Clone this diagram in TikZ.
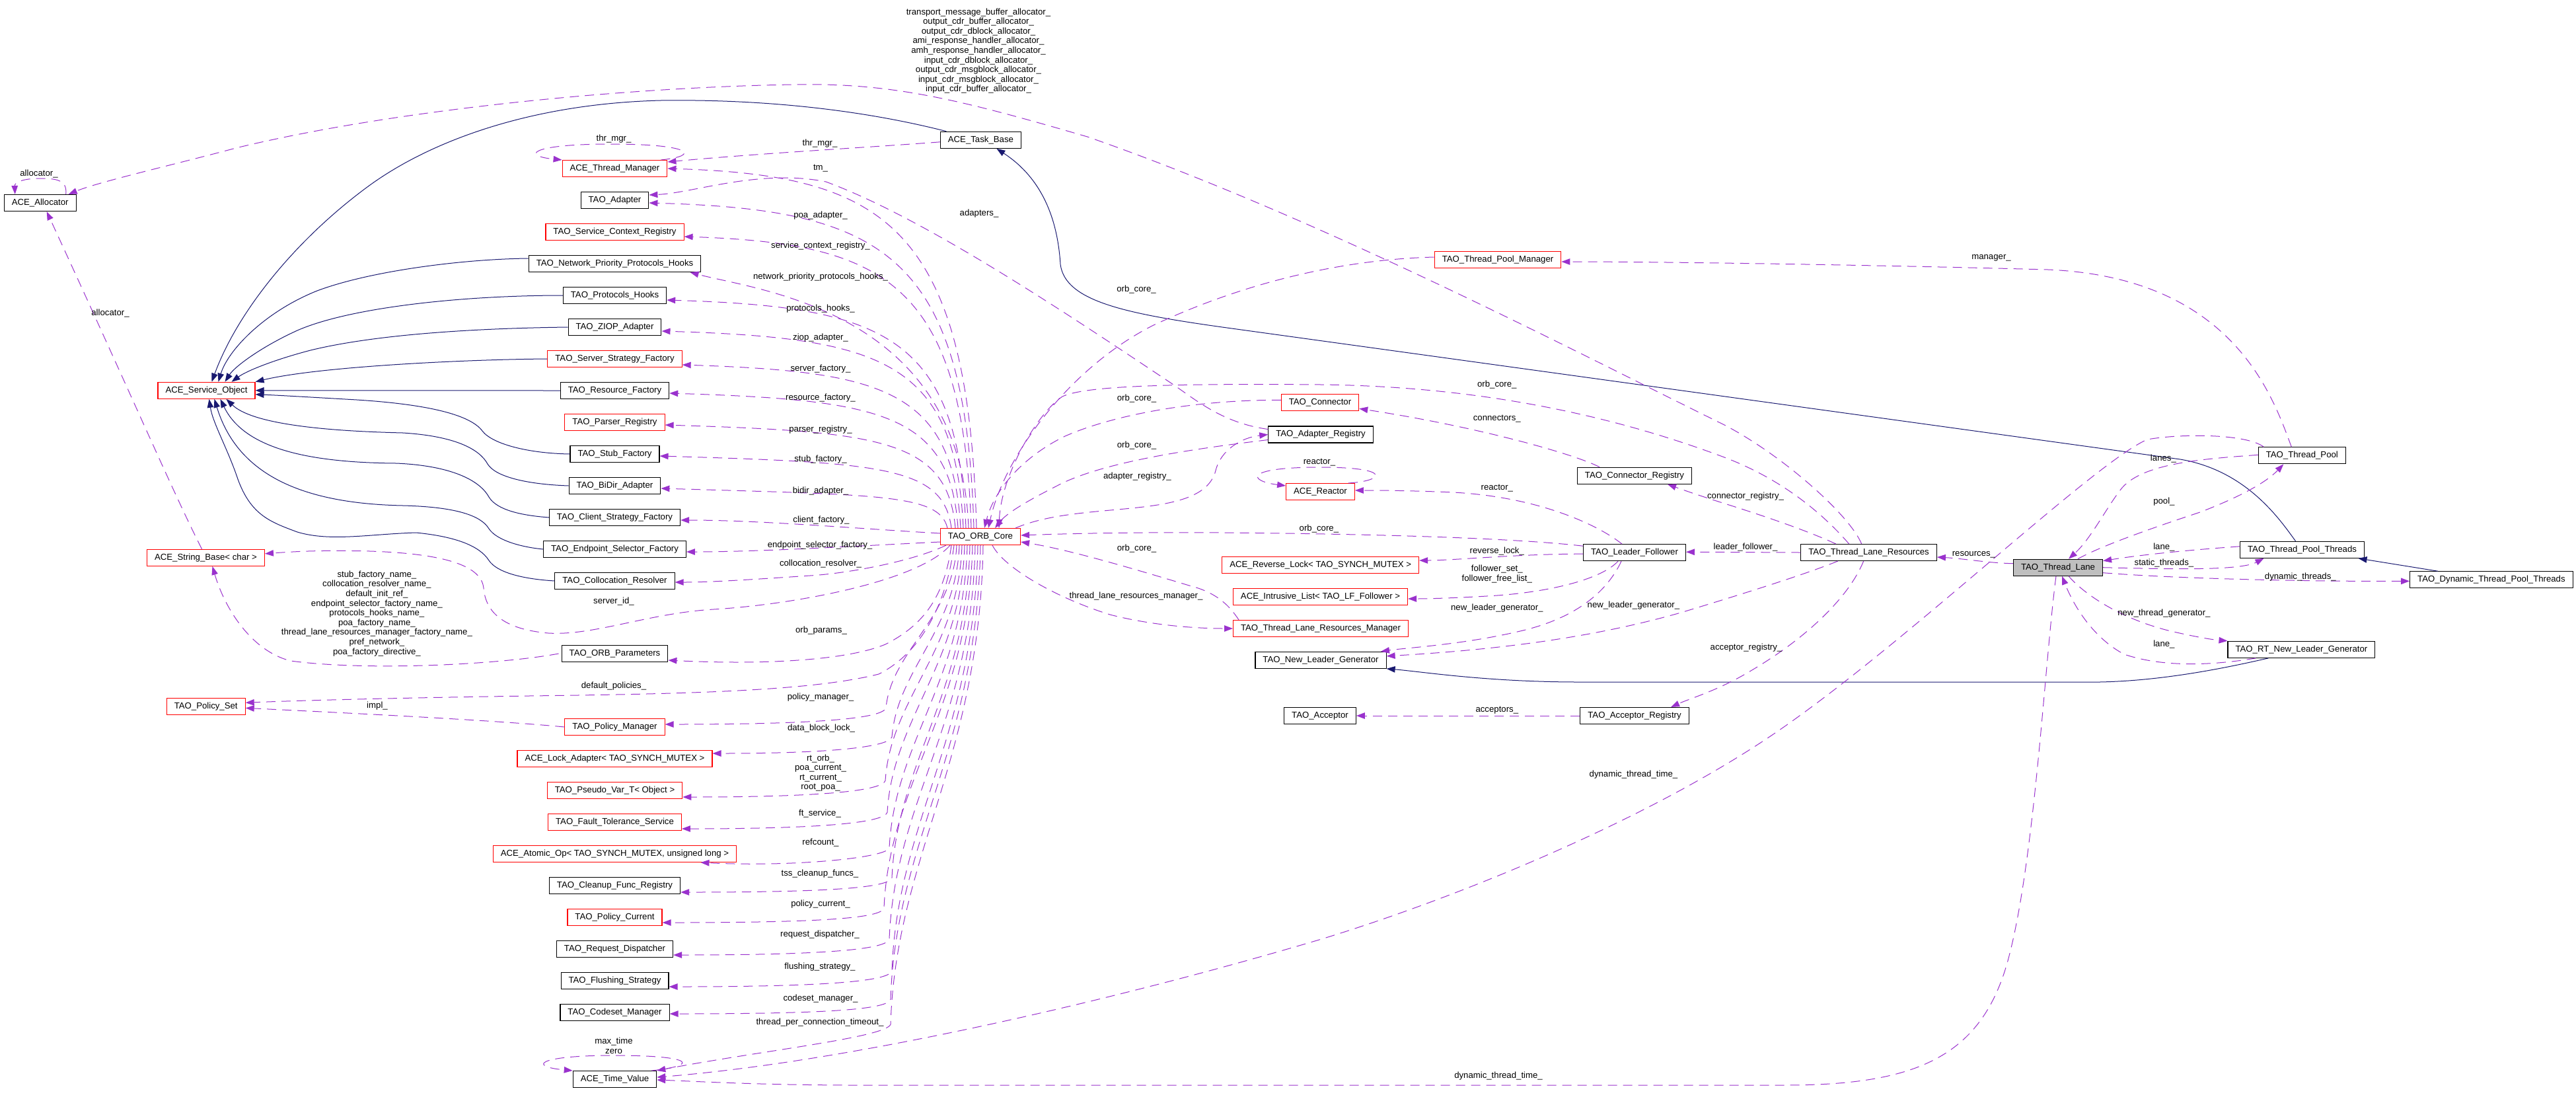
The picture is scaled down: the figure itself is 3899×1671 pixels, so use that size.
\documentclass[tikz,border=0pt]{standalone}
\usepackage{fontspec}
\setmainfont{Liberation Sans}
\usetikzlibrary{arrows.meta}
\definecolor{depc}{RGB}{154,50,205}
\definecolor{inhc}{RGB}{25,25,112}
\definecolor{selc}{RGB}{191,191,191}
\newcommand\dxf{\fontsize{13.2}{14.6}\selectfont}
\begin{document}
\begin{tikzpicture}[x=1pt,y=-1pt,
  cls/.style={draw=black,line width=1.1pt,inner xsep=11.5pt,inner ysep=0pt,minimum height=25pt,font=\dxf},
  rcls/.style={cls,draw=red},
  dep/.style={draw=depc,line width=1pt,dash pattern=on 14pt off 9pt,-{Triangle[length=13pt,width=9.5pt]}},
  inh/.style={draw=inhc,line width=1pt,-{Triangle[length=13pt,width=9.5pt]}},
  lbl/.style={font=\dxf,inner sep=0pt,align=center}]
\useasboundingbox (0,0) rectangle (3899,1671);
% ---------------- nodes ----------------
\node[cls]  (alloc)   at (60.7,307)    {ACE\_Allocator};
\node[rcls] (svc)     at (312.5,590.8) {ACE\_Service\_Object};
\node[rcls] (strbase) at (311.5,843.8) {ACE\_String\_Base< char >};
\node[rcls] (polset)  at (311.7,1069.3){TAO\_Policy\_Set};
\node[rcls] (thrmgr)  at (930.5,255)  {ACE\_Thread\_Manager};
\node[cls]  (adapter) at (930.5,303)  {TAO\_Adapter};
\node[rcls] (scr)     at (930.5,351)  {TAO\_Service\_Context\_Registry};
\node[cls]  (npph)    at (930.5,399)  {TAO\_Network\_Priority\_Protocols\_Hooks};
\node[cls]  (ph)      at (930.5,447)  {TAO\_Protocols\_Hooks};
\node[cls]  (ziop)    at (930.5,495)  {TAO\_ZIOP\_Adapter};
\node[rcls] (ssf)     at (930.5,543)  {TAO\_Server\_Strategy\_Factory};
\node[cls]  (rf)      at (930.5,591)  {TAO\_Resource\_Factory};
\node[rcls] (pr)      at (930.5,639)  {TAO\_Parser\_Registry};
\node[cls]  (sf)      at (930.5,687)  {TAO\_Stub\_Factory};
\node[cls]  (bidir)   at (930.5,735)  {TAO\_BiDir\_Adapter};
\node[cls]  (csf)     at (930.5,783)  {TAO\_Client\_Strategy\_Factory};
\node[cls]  (esf)     at (930.5,831)  {TAO\_Endpoint\_Selector\_Factory};
\node[cls]  (coll)    at (930.5,879)  {TAO\_Collocation\_Resolver};
\node[cls]  (orbp)    at (930.5,989)  {TAO\_ORB\_Parameters};
\node[rcls] (polmgr)  at (930.5,1100) {TAO\_Policy\_Manager};
\node[rcls] (lockad)  at (930.5,1148) {ACE\_Lock\_Adapter< TAO\_SYNCH\_MUTEX >};
\node[rcls] (pseudo)  at (930.5,1196) {TAO\_Pseudo\_Var\_T< Object >};
\node[rcls] (fts)     at (930.5,1244) {TAO\_Fault\_Tolerance\_Service};
\node[rcls] (atomic)  at (930.5,1292) {ACE\_Atomic\_Op< TAO\_SYNCH\_MUTEX, unsigned long >};
\node[cls]  (cfr)     at (930.5,1340) {TAO\_Cleanup\_Func\_Registry};
\node[rcls] (polcur)  at (930.5,1388) {TAO\_Policy\_Current};
\node[cls]  (rd)      at (930.5,1436) {TAO\_Request\_Dispatcher};
\node[cls]  (fs)      at (930.5,1484) {TAO\_Flushing\_Strategy};
\node[cls]  (csm)     at (930.5,1532) {TAO\_Codeset\_Manager};
\node[cls]  (tv)      at (930.5,1633) {ACE\_Time\_Value};
\node[cls]  (task)    at (1484.4,211.8) {ACE\_Task\_Base};
\node[rcls] (orb)     at (1484,812)   {TAO\_ORB\_Core};
\node[rcls] (tpm)     at (2267,393)   {TAO\_Thread\_Pool\_Manager};
\node[rcls] (conn)    at (1998,609.3) {TAO\_Connector};
\node[cls]  (areg)    at (1999,657.5) {TAO\_Adapter\_Registry};
\node[rcls] (reactor) at (1998.5,744) {ACE\_Reactor};
\node[cls]  (creg)    at (2474,719.8) {TAO\_Connector\_Registry};
\node[cls]  (lf)      at (2474,836.2) {TAO\_Leader\_Follower};
\node[rcls] (rlock)   at (1998.7,855) {ACE\_Reverse\_Lock< TAO\_SYNCH\_MUTEX >};
\node[rcls] (ilist)   at (1998.5,903) {ACE\_Intrusive\_List< TAO\_LF\_Follower >};
\node[rcls] (tlrm)    at (1999,951)   {TAO\_Thread\_Lane\_Resources\_Manager};
\node[cls]  (nlg)     at (1999,998.8) {TAO\_New\_Leader\_Generator};
\node[cls]  (acc)     at (1998,1083)  {TAO\_Acceptor};
\node[cls]  (accreg)  at (2474,1083)  {TAO\_Acceptor\_Registry};
\node[cls]  (tlr)     at (2828.6,836) {TAO\_Thread\_Lane\_Resources};
\node[cls,fill=selc] (lane) at (3115,858.7) {TAO\_Thread\_Lane};
\node[cls]  (pool)    at (3484.3,689.3) {TAO\_Thread\_Pool};
\node[cls]  (tpt)     at (3484.5,831.8) {TAO\_Thread\_Pool\_Threads};
\node[cls]  (dtpt)    at (3770.9,877.3) {TAO\_Dynamic\_Thread\_Pool\_Threads};
\node[cls]  (rtnlg)   at (3483.4,982.8) {TAO\_RT\_New\_Leader\_Generator};
% ---------------- inheritance ----------------
\draw[inh] ([xshift=-52pt]task.north) .. controls (1300,165) and (1150,150) .. (1000,152) .. controls (800,157) and (650,215) .. (560,280) .. controls (450,360) and (360,470) .. ([xshift=8pt]svc.north);
\draw[inh] ([yshift=8pt]npph.west) .. controls (700,392) and (560,410) .. (480,440) .. controls (400,472) and (345,530) .. ([xshift=18pt]svc.north);
\draw[inh] (ph.west) .. controls (700,447) and (530,465) .. (450,500) .. controls (395,525) and (355,555) .. ([xshift=28pt]svc.north);
\draw[inh] (ziop.west) .. controls (700,497) and (560,508) .. (470,530) .. controls (420,543) and (375,560) .. ([xshift=38pt]svc.north);
\draw[inh] (ssf.west) .. controls (700,544) and (480,555) .. (svc.north east);
\draw[inh] (rf.west) -- (svc.east);
\draw[inh] (sf.west) .. controls (800,686) and (745,672) .. (730,652) .. controls (712,628) and (650,612) .. (540,605) .. controls (470,601) and (420,598) .. ([yshift=-6pt]svc.east);
\draw[inh] (bidir.west) .. controls (800,733) and (750,722) .. (738,702) .. controls (726,680) and (690,660) .. (610,655) .. controls (480,652) and (380,640) .. ([xshift=30pt]svc.south);
\draw[inh] (csf.west) .. controls (790,780) and (752,772) .. (740,752) .. controls (728,730) and (690,705) .. (600,701) .. controls (470,700) and (370,680) .. ([xshift=21pt]svc.south);
\draw[inh] (esf.west) .. controls (790,828) and (752,818) .. (740,800) .. controls (728,780) and (690,767) .. (610,765) .. controls (460,762) and (360,720) .. ([xshift=12pt]svc.south);
\draw[inh] (coll.west) .. controls (790,876) and (752,866) .. (740,848) .. controls (726,826) and (690,812) .. (630,806) .. controls (560,808) and (500,820) .. (450,805) .. controls (410,790) and (380,780) .. (360,725) .. controls (345,680) and (322,640) .. ([xshift=4pt]svc.south);
\draw[inh] ([xshift=-10pt]tpt.north) .. controls (3450,785) and (3400,712) .. (3300,695) -- (1850,495) .. controls (1700,474) and (1612,455) .. (1605,400) .. controls (1600,320) and (1570,265) .. ([xshift=24pt]task.south);
\draw[inh] ([xshift=-81pt]dtpt.north) -- ([xshift=85pt]tpt.south);
\draw[inh] ([xshift=-50pt]rtnlg.south) .. controls (3380,1008) and (3280,1030) .. (3178,1032) -- (2390,1032) .. controls (2250,1032) and (2150,1016) .. (nlg.south east);
% ---------------- left part usage ----------------
\draw[dep] ([xshift=39pt]alloc.north) .. controls (102,272) and (85,270) .. (60,270) .. controls (35,270) and (22,276) .. ([xshift=-38pt]alloc.north);
\draw[dep] ([xshift=-6pt]strbase.north) .. controls (262,745) and (200,600) .. ([xshift=10pt]alloc.south);
\draw[dep] ([xshift=-11pt]tlr.north) .. controls (2800,780) and (2700,690) .. (2610,643) .. controls (2400,540) and (2000,330) .. (1646,207) .. controls (1450,150) and (1350,125) .. (1200,128) .. controls (950,132) and (600,165) .. (357,224) .. controls (260,250) and (150,275) .. ([xshift=-12pt]alloc.north east);
\draw[dep] ([xshift=-10pt]thrmgr.north east) .. controls (1060,236) and (1050,218) .. (925,218) .. controls (800,218) and (790,236) .. (thrmgr.north west);
\draw[dep] ([yshift=-3pt]task.west) .. controls (1330,222) and (1150,232) .. ([yshift=10pt]thrmgr.east);
\draw[dep] ([xshift=-4pt]orbp.west) .. controls (760,1005) and (560,1016) .. (440,1000) .. controls (380,985) and (340,920) .. ([xshift=10pt]strbase.south);
\draw[dep] ([xshift=-46pt]orb.south) .. controls (1390,880) and (1200,915) .. (1080,922) .. controls (980,928) and (900,962) .. (830,958) .. controls (760,952) and (735,925) .. (732,890) .. controls (729,858) and (680,838) .. (560,834) .. controls (480,832) and (440,835) .. ([yshift=6pt]strbase.east);
\draw[dep] (polmgr.west) .. controls (750,1090) and (550,1080) .. ([yshift=-2pt]polset.east);
% ---------------- ORB core to column (top) ----------------
\draw[dep] ([xshift=-6pt]orb.north) .. controls (1466,337) and (1335,265) .. (thrmgr.east);
\draw[dep] ([xshift=-10pt]orb.north) .. controls (1462,381) and (1335,317) .. ([yshift=-4pt]adapter.east);
\draw[dep] ([xshift=-14pt]orb.north) .. controls (1458,424) and (1335,368) .. ([yshift=-7pt]scr.east);
\draw[dep] ([xshift=-18pt]orb.north) .. controls (1454,470) and (1150,440) .. ([xshift=114pt]npph.south);
\draw[dep] ([xshift=-22pt]orb.north) .. controls (1450,506) and (1335,464) .. ([yshift=-7pt]ph.east);
\draw[dep] ([xshift=-26pt]orb.north) .. controls (1446,546) and (1335,511) .. ([yshift=-6pt]ziop.east);
\draw[dep] ([xshift=-30pt]orb.north) .. controls (1442,589) and (1335,562) .. ([yshift=-9pt]ssf.east);
\draw[dep] ([xshift=-34pt]orb.north) .. controls (1438,626) and (1335,605) .. ([yshift=-4pt]rf.east);
\draw[dep] ([xshift=-38pt]orb.north) .. controls (1434,666) and (1335,653) .. ([yshift=-4pt]pr.east);
\draw[dep] ([xshift=-44pt]orb.north) .. controls (1428,706) and (1335,700) .. ([yshift=-3pt]sf.east);
\draw[dep] ([xshift=-50pt]orb.north) .. controls (1422,748) and (1335,749) .. ([yshift=-4pt]bidir.east);
\draw[dep] ([yshift=5pt]orb.west) .. controls (1300,800) and (1150,787) .. ([yshift=-4pt]csf.east);
\draw[dep] ([yshift=-8pt]orb.west) .. controls (1300,826) and (1150,835) .. ([yshift=-4pt]esf.east);
\draw[dep] ([xshift=-52pt]orb.south) .. controls (1380,850) and (1280,868) .. (1226,871) .. controls (1150,876) and (1080,881) .. ([yshift=-2pt]coll.east);
% ---------------- ORB core to column (bottom) ----------------
\draw[dep] ([xshift=-44pt]orb.south) .. controls (1430,900) and (1400,945) .. (1340,975) .. controls (1280,1000) and (1150,1006) .. ([yshift=-10pt]orbp.east);
\draw[dep] ([xshift=-40pt]orb.south) .. controls (1432,920) and (1390,990) .. (1330,1020) .. controls (1230,1045) and (1050,1050) .. (800,1053) .. controls (600,1056) and (450,1060) .. ([yshift=6pt]polset.east);
\draw[dep] ([xshift=-36pt]orb.south) .. controls (1443,935) and (1349,985) .. (1341,1071) .. controls (1337,1086) and (1251,1096) .. ([yshift=4pt]polmgr.east);
\draw[dep] ([xshift=-32pt]orb.south) .. controls (1447,955) and (1358,1013) .. (1350,1115) .. controls (1346,1130) and (1260,1140) .. ([yshift=8pt]lockad.east);
\draw[dep] ([xshift=-28pt]orb.south) .. controls (1451,985) and (1348,1056) .. (1340,1181) .. controls (1336,1196) and (1250,1206) .. ([yshift=-10pt]pseudo.east);
\draw[dep] ([xshift=-24pt]orb.south) .. controls (1455,1006) and (1351,1087) .. (1343,1229) .. controls (1339,1244) and (1253,1254) .. ([yshift=-10pt]fts.east);
\draw[dep] ([xshift=-20pt]orb.south) .. controls (1459,1030) and (1354,1122) .. (1346,1283) .. controls (1342,1298) and (1200,1312) .. ([xshift=130pt]atomic.south);
\draw[dep] ([xshift=-16pt]orb.south) .. controls (1463,1051) and (1358,1152) .. (1350,1328) .. controls (1346,1343) and (1260,1350) .. ([yshift=-10pt]cfr.east);
\draw[dep] ([xshift=-12pt]orb.south) .. controls (1467,1072) and (1346,1182) .. (1338,1374) .. controls (1334,1389) and (1248,1396) .. ([yshift=-8pt]polcur.east);
\draw[dep] ([xshift=-8pt]orb.south) .. controls (1471,1093) and (1354,1212) .. (1346,1421) .. controls (1342,1436) and (1256,1445) .. ([yshift=-9pt]rd.east);
\draw[dep] ([xshift=-4pt]orb.south) .. controls (1475,1114) and (1358,1243) .. (1350,1469) .. controls (1346,1484) and (1260,1493) .. ([yshift=-9pt]fs.east);
\draw[dep] (orb.south) .. controls (1479,1134) and (1356,1271) .. (1348,1512) .. controls (1344,1527) and (1258,1534) .. ([yshift=-2pt]csm.east);
\draw[dep] ([xshift=4pt]orb.south) .. controls (1483,1151) and (1356,1296) .. (1348,1550) .. controls (1340,1570) and (1150,1590) .. (tv.north east);
\draw[dep] ([xshift=-8pt]tv.north east) .. controls (1060,1612) and (1050,1597) .. (930,1597) .. controls (810,1597) and (800,1614) .. (tv.north west);
% ---------------- right part usage ----------------
\draw[dep] ([yshift=4pt]tpm.west) .. controls (2050,392) and (1900,420) .. (1746,492) .. controls (1620,555) and (1520,690) .. ([xshift=12pt]orb.north);
\draw[dep] ([yshift=4pt]conn.west) .. controls (1800,605) and (1680,630) .. (1612,660) .. controls (1550,690) and (1505,740) .. ([xshift=6pt]orb.north);
\draw[dep] ([yshift=-8pt]areg.west) .. controls (1800,680) and (1680,698) .. (1610,730) .. controls (1560,755) and (1525,775) .. ([xshift=22pt]orb.north);
\draw[dep] ([xshift=-30pt]tlr.north) .. controls (2770,790) and (2710,730) .. (2610,692) .. controls (2450,632) and (2250,585) .. (2000,582) .. controls (1750,580) and (1640,585) .. (1608,600) .. controls (1570,625) and (1515,720) .. ([xshift=28pt]orb.north);
\draw[dep] ([xshift=-8pt]orb.north east) .. controls (1640,755) and (1820,790) .. (1840,712) .. controls (1848,680) and (1880,662) .. (areg.west);
\draw[dep] ([yshift=8pt]areg.west) .. controls (1850,640) and (1810,605) .. (1773,580) .. controls (1620,478) and (1400,330) .. (1250,275) .. controls (1150,255) and (1050,292) .. ([yshift=8pt]adapter.east);
\draw[dep] ([xshift=-53pt]creg.north) .. controls (2390,690) and (2250,648) .. ([yshift=-9pt]conn.east);
\draw[dep] ([xshift=-10pt]reactor.north east) .. controls (2095,728) and (2110,707) .. (1998,707) .. controls (1880,707) and (1890,728) .. ([yshift=-4pt]reactor.north west);
\draw[dep] ([xshift=-19pt]lf.north) .. controls (2420,795) and (2330,752) .. (2200,745) .. controls (2130,742) and (2080,742) .. ([yshift=2pt]reactor.east);
\draw[dep] ([yshift=10pt]lf.west) .. controls (2300,815) and (2100,808) .. (1850,806) .. controls (1700,805) and (1600,808) .. ([yshift=2pt]orb.east);
\draw[dep] ([yshift=-2pt]lf.west) .. controls (2300,838) and (2200,848) .. ([yshift=7pt]rlock.east);
\draw[dep] ([xshift=-25pt]lf.south) .. controls (2420,880) and (2330,898) .. (2250,902) .. controls (2200,905) and (2160,906) .. ([yshift=-3pt]ilist.east);
\draw[dep] ([xshift=-20pt]lf.south) .. controls (2430,900) and (2380,935) .. (2309,953) .. controls (2220,975) and (2130,980) .. ([xshift=91pt]nlg.north);
\draw[dep] ([xshift=-47pt]tlr.south) .. controls (2740,866) and (2660,892) .. (2544,927) .. controls (2400,968) and (2250,984) .. ([yshift=6pt]nlg.east);
\draw[dep] ([xshift=-8pt]tlr.south) .. controls (2800,900) and (2740,962) .. (2650,1015) .. controls (2600,1045) and (2560,1056) .. ([xshift=55pt]accreg.north);
\draw[dep] ([xshift=-50pt]tlr.north) .. controls (2740,805) and (2680,784) .. (2620,765) .. controls (2588,755) and (2558,745) .. ([xshift=50pt]creg.south);
\draw[dep] (tlr.west) -- ([yshift=1pt]lf.east);
\draw[dep] (accreg.west) -- (acc.east);
\draw[dep] ([xshift=18pt]orb.south) .. controls (1520,860) and (1600,905) .. (1680,930) .. controls (1750,948) and (1820,951) .. (tlrm.west);
\draw[dep] ([xshift=-124pt]tlrm.north) .. controls (1860,915) and (1840,896) .. (1800,886) .. controls (1720,862) and (1620,832) .. ([yshift=-8pt]orb.east);
\draw[dep] ([xshift=-16pt]pool.north) .. controls (3440,600) and (3380,420) .. (3100,408) .. controls (2800,400) and (2500,396) .. ([yshift=-3pt]tpm.east);
\draw[dep] ([yshift=1pt]pool.west) .. controls (3340,694) and (3245,700) .. (3212,738) .. controls (3190,765) and (3165,815) .. ([xshift=16pt]lane.north);
\draw[dep] ([xshift=30pt]lane.north) .. controls (3180,826) and (3260,798) .. (3330,775) .. controls (3390,752) and (3430,730) .. ([xshift=-28pt]pool.south);
\draw[dep] ([yshift=5pt]tpt.west) .. controls (3330,831) and (3250,838) .. ([yshift=10pt]lane.east);
\draw[dep] (lane.east) .. controls (3280,861) and (3390,864) .. ([xshift=-58pt]tpt.south);
\draw[dep] ([yshift=-8pt]lane.east) .. controls (3300,876) and (3500,880) .. ([yshift=-2pt]dtpt.west);
\draw[dep] ([xshift=16pt]lane.south) .. controls (3160,905) and (3220,940) .. (3290,956) .. controls (3330,965) and (3350,968) .. (rtnlg.north west);
\draw[dep] ([xshift=-69pt]rtnlg.south) .. controls (3360,1005) and (3280,1012) .. (3215,990) .. controls (3170,966) and (3140,920) .. ([xshift=6pt]lane.south);
\draw[dep] ([yshift=6pt]lane.west) .. controls (3010,852) and (2970,845) .. ([yshift=-7pt]tlr.east);
\draw[dep] ([xshift=-3pt]lane.south) .. controls (3095,1000) and (3080,1300) .. (3040,1450) .. controls (3000,1600) and (2900,1642) .. (2700,1642) -- (1300,1642) .. controls (1150,1642) and (1050,1636) .. ([yshift=-1pt]tv.east);
\draw[dep] ([xshift=-58pt]pool.north) .. controls (3400,656) and (3300,656) .. (3250,665) .. controls (3170,700) and (2900,960) .. (2700,1100) .. controls (2500,1240) and (2200,1360) .. (2000,1421) .. controls (1700,1510) and (1300,1605) .. ([yshift=3pt]tv.east);
% ---------------- labels ----------------
\node[lbl] (lalloc) at (1481,77) {transport\_message\_buffer\_allocator\_\\output\_cdr\_buffer\_allocator\_\\output\_cdr\_dblock\_allocator\_\\ami\_response\_handler\_allocator\_\\amh\_response\_handler\_allocator\_\\input\_cdr\_dblock\_allocator\_\\output\_cdr\_msgblock\_allocator\_\\input\_cdr\_msgblock\_allocator\_\\input\_cdr\_buffer\_allocator\_};
\node[lbl] (lstr) at (570.4,928.3) {stub\_factory\_name\_\\collocation\_resolver\_name\_\\default\_init\_ref\_\\endpoint\_selector\_factory\_name\_\\protocols\_hooks\_name\_\\poa\_factory\_name\_\\thread\_lane\_resources\_manager\_factory\_name\_\\pref\_network\_\\poa\_factory\_directive\_};
\node[lbl] (la1) at (59,263) {allocator\_};
\node[lbl] (la2) at (167,474) {allocator\_};
\node[lbl] (limpl) at (571,1068) {impl\_};
\node[lbl] (lsid) at (929,910) {server\_id\_};
\node[lbl] (ldp) at (929,1038) {default\_policies\_};
\node[lbl] (lthr1) at (929,210) {thr\_mgr\_};
\node[lbl] (lthr2) at (1241,217) {thr\_mgr\_};
\node[lbl] (ltm) at (1242,254.5) {tm\_};
\node[lbl] (lpoa) at (1242,326) {poa\_adapter\_};
\node[lbl] (lscr) at (1242,372) {service\_context\_registry\_};
\node[lbl] (lnpph) at (1242,419) {network\_priority\_protocols\_hooks\_};
\node[lbl] (lph) at (1242,467) {protocols\_hooks\_};
\node[lbl] (lziop) at (1242,511) {ziop\_adapter\_};
\node[lbl] (lssf) at (1242,558) {server\_factory\_};
\node[lbl] (lrf) at (1242,602) {resource\_factory\_};
\node[lbl] (lpr) at (1242,650) {parser\_registry\_};
\node[lbl] (lsf) at (1242,695) {stub\_factory\_};
\node[lbl] (lbidir) at (1242,743) {bidir\_adapter\_};
\node[lbl] (lcsf) at (1243,787.5) {client\_factory\_};
\node[lbl] (lesf) at (1241,825) {endpoint\_selector\_factory\_};
\node[lbl] (lcoll) at (1242,853) {collocation\_resolver\_};
\node[lbl] (lorbp) at (1243,954.5) {orb\_params\_};
\node[lbl] (lpm) at (1242,1055) {policy\_manager\_};
\node[lbl] (ldbl) at (1243,1102.5) {data\_block\_lock\_};
\node[lbl] (lrt) at (1242,1169.5) {rt\_orb\_\\poa\_current\_\\rt\_current\_\\root\_poa\_};
\node[lbl] (lft) at (1241,1231) {ft\_service\_};
\node[lbl] (lref) at (1242,1275) {refcount\_};
\node[lbl] (ltss) at (1241,1322) {tss\_cleanup\_funcs\_};
\node[lbl] (lpc) at (1242,1368) {policy\_current\_};
\node[lbl] (lrd) at (1241,1414) {request\_dispatcher\_};
\node[lbl] (lfs) at (1241,1463) {flushing\_strategy\_};
\node[lbl] (lcm) at (1242,1511) {codeset\_manager\_};
\node[lbl] (ltpc) at (1241,1547) {thread\_per\_connection\_timeout\_};
\node[lbl] (lmax) at (929,1582.5) {max\_time\\zero};
\node[lbl] (ladapters) at (1482,323) {adapters\_};
\node[lbl] (loc1) at (1720,437.7) {orb\_core\_};
\node[lbl] (loc2) at (1720.5,602.8) {orb\_core\_};
\node[lbl] (loc3) at (1720.5,673.6) {orb\_core\_};
\node[lbl] (lar) at (1721.4,721.5) {adapter\_registry\_};
\node[lbl] (loc4) at (1720.5,830.5) {orb\_core\_};
\node[lbl] (ltlrm) at (1719.6,902.5) {thread\_lane\_resources\_manager\_};
\node[lbl] (loc5) at (2265.8,581.7) {orb\_core\_};
\node[lbl] (lconn) at (2265.8,634) {connectors\_};
\node[lbl] (lreac1) at (1997,700) {reactor\_};
\node[lbl] (lreac2) at (2265.8,739) {reactor\_};
\node[lbl] (loc6) at (1996.4,799.7) {orb\_core\_};
\node[lbl] (lrl) at (2265.8,833.7) {reverse\_lock\_};
\node[lbl] (lfol) at (2265.8,868.7) {follower\_set\_\\follower\_free\_list\_};
\node[lbl] (lnlg1) at (2265.8,920) {new\_leader\_generator\_};
\node[lbl] (lnlg2) at (2472.4,916) {new\_leader\_generator\_};
\node[lbl] (lacc) at (2265.8,1075) {acceptors\_};
\node[lbl] (ldtt1) at (2472.4,1171.7) {dynamic\_thread\_time\_};
\node[lbl] (lcr) at (2642,751) {connector\_registry\_};
\node[lbl] (llf) at (2642,827.7) {leader\_follower\_};
\node[lbl] (lar2) at (2643,979.7) {acceptor\_registry\_};
\node[lbl] (lres) at (2987.4,839.7) {resources\_};
\node[lbl] (llanes) at (3274.4,693.8) {lanes\_};
\node[lbl] (lpool) at (3275.4,759) {pool\_};
\node[lbl] (llane1) at (3275.4,827.8) {lane\_};
\node[lbl] (lst) at (3275.4,851.6) {static\_threads\_};
\node[lbl] (lntg) at (3275.4,927.8) {new\_thread\_generator\_};
\node[lbl] (llane2) at (3275.4,975.5) {lane\_};
\node[lbl] (ldt) at (3481.8,873.3) {dynamic\_threads\_};
\node[lbl] (lman) at (3014,390) {manager\_};
\node[lbl] (ldtt2) at (2268,1628) {dynamic\_thread\_time\_};
\end{tikzpicture}
\end{document}
